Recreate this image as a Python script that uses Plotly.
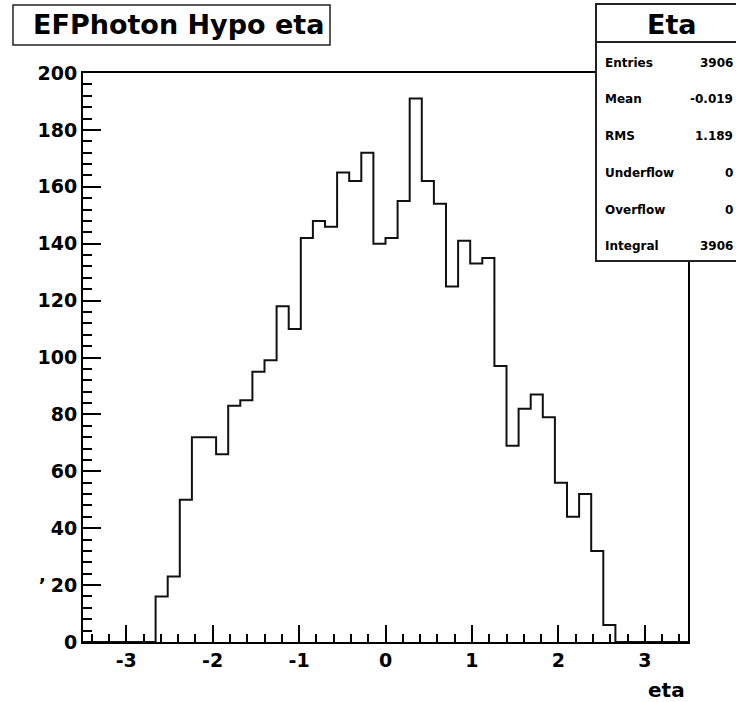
import numpy as np
import plotly.graph_objects as go

# Histogram definition: 50 equal bins on [-3.5, 3.5]
x_low, x_high, n_bins = -3.5, 3.5, 50
counts = [
    0, 0, 0, 0, 0, 0, 16, 23, 50, 72,
    72, 66, 83, 85, 95, 99, 118, 110, 142, 148,
    146, 165, 162, 172, 140, 142, 155, 191, 162, 154,
    125, 141, 133, 135, 97, 69, 82, 87, 79, 56,
    44, 52, 32, 6, 0, 0, 0, 0, 0, 0,
]

hist_title = "EFPhoton Hypo eta"
hist_name = "Eta"
x_title = "eta"
stat_labels = ["Entries", "Mean", "RMS", "Underflow", "Overflow", "Integral"]
stat_values = ["3906", "-0.019", "1.189", "0", "0", "3906"]

x_ticks = [-3, -2, -1, 0, 1, 2, 3]
y_ticks = [0, 20, 40, 60, 80, 100, 120, 140, 160, 180, 200]
y_max = 200

# Canvas / frame geometry in pixels
W, H = 736, 702
L, R, T, B = 83, 688, 73, 642


def px(x):
    return (x - L) / (R - L)


def py(y):
    return (B - y) / (B - T)


edges = np.linspace(x_low, x_high, n_bins + 1)
step_y = counts + [counts[-1]]

FONT = "DejaVu Sans"

fig = go.Figure()
fig.add_trace(go.Scatter(
    x=edges, y=step_y, mode="lines", line_shape="hv",
    line=dict(color="#111111", width=2), hoverinfo="skip", showlegend=False,
))

axis_common = dict(
    showline=True, linecolor="black", linewidth=2, mirror=True,
    ticks="inside", tickcolor="black", tickwidth=2,
    showgrid=False, zeroline=False,
    tickfont=dict(family=FONT, size=19, color="black", weight="bold"),
)

fig.update_xaxes(
    range=[x_low, x_high], tickvals=x_ticks, ticktext=[str(v) for v in x_ticks],
    ticklen=17, minor=dict(dtick=0.2, tick0=0, ticks="inside", ticklen=8,
                           tickwidth=2, tickcolor="black", showgrid=False),
    **axis_common,
)
fig.update_yaxes(
    range=[0, y_max], tickvals=y_ticks, ticktext=[str(v) for v in y_ticks],
    ticklen=18, minor=dict(dtick=4, tick0=0, ticks="inside", ticklen=9,
                           tickwidth=2, tickcolor="black", showgrid=False),
    **axis_common,
)

shapes = [
    # title box
    dict(type="rect", xref="paper", yref="paper",
         x0=px(13), x1=px(330), y0=py(45), y1=py(5),
         line=dict(color="#222222", width=1.5), fillcolor="white", layer="above"),
    # statistics box
    dict(type="rect", xref="paper", yref="paper",
         x0=px(596), x1=px(745), y0=py(261), y1=py(4),
         line=dict(color="#222222", width=2), fillcolor="white", layer="above"),
    dict(type="line", xref="paper", yref="paper",
         x0=px(596), x1=px(745), y0=py(42), y1=py(42),
         line=dict(color="#222222", width=2), layer="above"),
]

annotations = [
    dict(text=hist_title, xref="paper", yref="paper", x=px(178), y=py(25),
         xanchor="center", yanchor="middle", showarrow=False,
         font=dict(family=FONT, size=27, color="black", weight="bold")),
    dict(text=hist_name, xref="paper", yref="paper", x=px(672), y=py(24),
         xanchor="center", yanchor="middle", showarrow=False,
         font=dict(family=FONT, size=27, color="black", weight="bold")),
    dict(text=x_title, xref="paper", yref="paper", x=px(687), y=py(690),
         xanchor="right", yanchor="middle", showarrow=False,
         font=dict(family=FONT, size=20, color="black", weight="bold")),
    dict(text=",", xref="paper", yref="paper", x=px(42), y=py(574),
         xanchor="center", yanchor="middle", showarrow=False,
         font=dict(family=FONT, size=18, color="black", weight="bold")),
]

row_y0, row_dy = 62.7, 36.7
for i, (lab, val) in enumerate(zip(stat_labels, stat_values)):
    yy = py(row_y0 + i * row_dy)
    annotations.append(dict(text=lab, xref="paper", yref="paper", x=px(603), y=yy,
                            xanchor="left", yanchor="middle", showarrow=False,
                            font=dict(family=FONT, size=12, color="black", weight="bold")))
    annotations.append(dict(text=val, xref="paper", yref="paper", x=px(735), y=yy,
                            xanchor="right", yanchor="middle", showarrow=False,
                            font=dict(family=FONT, size=12, color="black", weight="bold")))

fig.update_layout(
    width=W, height=H,
    margin=dict(l=L, r=W - R, t=T, b=H - B, pad=0),
    paper_bgcolor="white", plot_bgcolor="white",
    shapes=shapes, annotations=annotations,
    showlegend=False,
)

fig.write_html("out.html")
